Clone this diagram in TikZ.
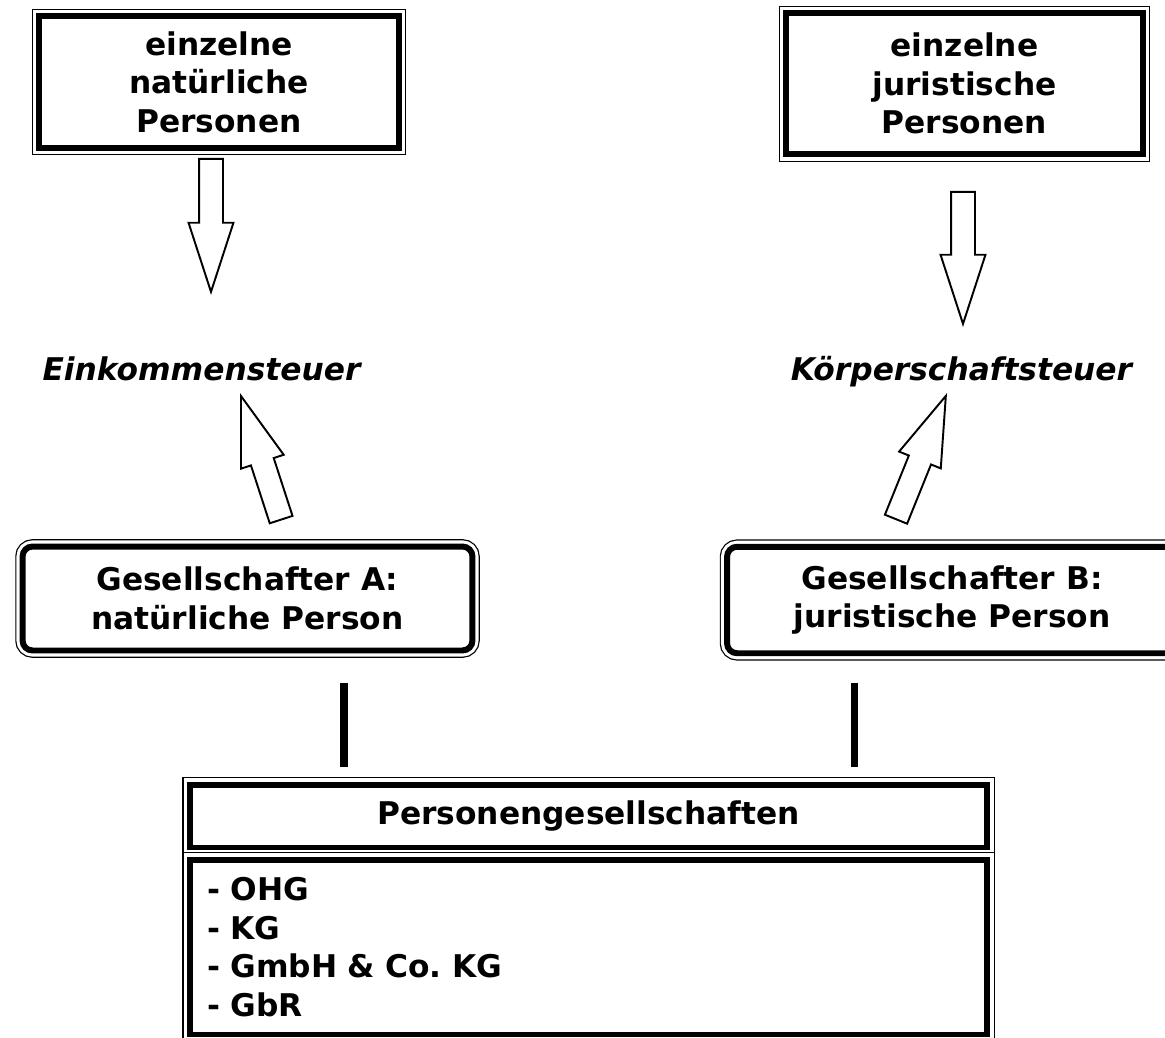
\documentclass[tikz,border=0pt]{standalone}
\usepackage{fontspec}
\setmainfont{DejaVu Sans}
\usetikzlibrary{shapes.arrows}

\begin{document}
\begin{tikzpicture}[x=0.02cm, y=-0.02cm,
  font=\fontsize{17.8pt}{21.9pt}\selectfont\bfseries,
  frame/.style={draw, fill=white, line width=3.4pt, align=center,
    preaction={draw, line width=8.3pt}, preaction={draw, white, line width=6.9pt}},
  roundframe/.style={frame, rounded corners=0.2cm},
  blockarrow/.style={single arrow, draw, line width=1.1pt, inner xsep=0pt, inner ysep=0.22cm, anchor=tip,
    minimum width=0.86cm, single arrow head extend=0.21cm, single arrow tip angle=36},
  tax/.style={font=\fontsize{17.8pt}{21.9pt}\selectfont\bfseries\itshape, anchor=base},
  link/.style={line width=4pt}]
\useasboundingbox (0,0) rectangle (1165,1037);
\node[frame, minimum width=7.2cm, minimum height=2.63cm] (box0) at (219,82) {einzelne\\natürliche\\Personen};
\node[frame, minimum width=7.14cm, minimum height=2.83cm] (box1) at (964.5,83.75) {einzelne\\juristische\\Personen};
\node[blockarrow, minimum height=2.66cm, rotate=-90] (arr0) at (211,295) {};
\node[blockarrow, minimum height=2.64cm, rotate=-90] (arr1) at (963,327) {};

\node[tax] (tax0) at (201.5,380) {Einkommensteuer};
\node[tax] (tax1) at (961.5,380) {Körperschaftsteuer};
\node[blockarrow, minimum height=2.6cm, rotate=108] (arr2) at (240,393) {};
\node[blockarrow, minimum height=2.66cm, rotate=68] (arr3) at (947,393) {};

\node[roundframe, minimum width=9cm, minimum height=2.08cm] (gs0) at (247.5,598.5) {Gesellschafter A:\\natürliche Person};
\node[roundframe, minimum width=9cm, minimum height=2.13cm] (gs1) at (952,600) {Gesellschafter B:\\juristische Person};

\node[frame, minimum width=15.96cm, minimum height=1.26cm] (pg0) at (588.5,816) {Personengesellschaften};
\node[frame, align=left, text width=15.26cm, inner xsep=0.35cm, minimum height=3.5cm] (pg1) at (588.5,947) {- OHG\\- KG\\- GmbH \& Co.\ KG\\- GbR};

\coordinate (lk0) at (344,683);
\coordinate (lk1) at (854.5,683);
\draw[link, shorten <=0.59cm, shorten >=0.29cm] (gs0.south -| lk0) -- (pg0.north -| lk0);
\draw[link, shorten <=0.54cm, shorten >=0.29cm] (gs1.south -| lk1) -- (pg0.north -| lk1);

\end{tikzpicture}
\end{document}
